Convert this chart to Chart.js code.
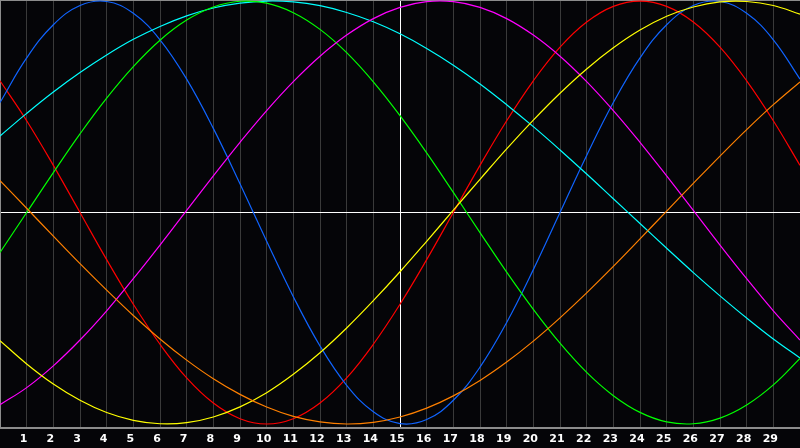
<!DOCTYPE html>
<html>
<head>
<meta charset="utf-8">
<script src="https://cdn.jsdelivr.net/npm/chart.js@4/dist/chart.umd.min.js"></script>
<style>
  html, body { margin: 0; padding: 0; background: #050508; }
  #c { display: block; }
</style>
</head>
<body>
<canvas id="c" width="800" height="448"></canvas>
<script>
// x positions 0..30
const xs = [0, 1, 2, 3, 4, 5, 6, 7, 8, 9, 10, 11, 12, 13, 14, 15, 16, 17, 18, 19, 20, 21, 22, 23, 24, 25, 26, 27, 28, 29, 30];

const red     = [0.623, 0.434, 0.223, 0, -0.223, -0.434, -0.623, -0.782, -0.901, -0.975, -1, -0.975, -0.901, -0.782, -0.623, -0.434, -0.223, 0, 0.223, 0.434, 0.623, 0.782, 0.901, 0.975, 1, 0.975, 0.901, 0.782, 0.623, 0.434, 0.223];
const blue    = [0.520, 0.731, 0.888, 0.979, 0.998, 0.942, 0.817, 0.631, 0.398, 0.136, -0.136, -0.398, -0.631, -0.817, -0.942, -0.998, -0.979, -0.888, -0.731, -0.520, -0.270, 0, 0.270, 0.520, 0.731, 0.888, 0.979, 0.998, 0.942, 0.817, 0.631];
const cyan    = [0.362, 0.469, 0.570, 0.662, 0.745, 0.819, 0.880, 0.930, 0.967, 0.990, 1.000, 0.996, 0.978, 0.946, 0.902, 0.845, 0.776, 0.697, 0.608, 0.510, 0.406, 0.296, 0.182, 0.065, -0.052, -0.169, -0.284, -0.394, -0.499, -0.598, -0.688];
const green   = [-0.189, 0, 0.189, 0.372, 0.541, 0.690, 0.815, 0.910, 0.972, 0.999, 0.990, 0.945, 0.866, 0.756, 0.618, 0.458, 0.282, 0.095, -0.095, -0.282, -0.458, -0.618, -0.756, -0.866, -0.945, -0.990, -0.999, -0.972, -0.910, -0.815, -0.690];
const magenta = [-0.909, -0.828, -0.725, -0.603, -0.465, -0.313, -0.154, 0.010, 0.173, 0.332, 0.482, 0.619, 0.739, 0.839, 0.917, 0.970, 0.997, 0.997, 0.970, 0.917, 0.839, 0.739, 0.619, 0.482, 0.332, 0.173, 0.010, -0.154, -0.313, -0.465, -0.603];
const yellow  = [-0.606, -0.716, -0.811, -0.888, -0.946, -0.983, -0.999, -0.994, -0.967, -0.919, -0.852, -0.765, -0.663, -0.546, -0.417, -0.280, -0.136, 0.011, 0.157, 0.301, 0.437, 0.564, 0.679, 0.779, 0.863, 0.928, 0.972, 0.996, 0.998, 0.979, 0.938];
const orange  = [0.151, 0.020, -0.112, -0.242, -0.367, -0.487, -0.598, -0.698, -0.786, -0.860, -0.920, -0.964, -0.990, -1.000, -0.992, -0.967, -0.925, -0.867, -0.794, -0.707, -0.608, -0.498, -0.380, -0.255, -0.125, 0.007, 0.138, 0.267, 0.392, 0.510, 0.618];

const yMin = -1.019;
const yMax = 1.005;

function pts(vals) {
    return xs.map((x, i) => ({ x: x, y: vals[i] }));
}

function line(vals, color) {
    return {
        data: pts(vals),
        borderColor: color,
        borderWidth: 1.2,
        pointRadius: 0,
        tension: 0.4,
        fill: false
    };
}

const ctx = document.getElementById('c').getContext('2d');
const chart = new Chart(ctx, {
    type: 'line',
    data: {
        datasets: [
            line(orange, '#ff8000'),
            line(yellow, '#ffff00'),
            line(magenta, '#ff00ff'),
            line(green, '#00ff00'),
            line(cyan, '#00ffff'),
            line(blue, '#1064ff'),
            line(red, '#ff0000')
        ]
    },
    options: {
        responsive: false,
        animation: false,
        devicePixelRatio: 1,
        layout: { padding: 0, autoPadding: false },
        plugins: {
            legend: { display: false },
            tooltip: { enabled: false }
        },
        scales: {
            x: {
                type: 'linear',
                min: 0,
                max: 30,
                afterFit: (axis) => {
                    axis.height = 20;
                    axis.paddingLeft = 0;
                    axis.paddingRight = 0;
                },
                ticks: {
                    stepSize: 1,
                    autoSkip: false,
                    maxRotation: 0,
                    padding: 5,
                    labelOffset: -3,
                    color: '#ffffff',
                    font: { family: 'DejaVu Sans', size: 11, weight: 'bold' },
                    callback: (v) => (v > 0 && v < 30 ? String(v) : '')
                },
                grid: {
                    drawTicks: false,
                    lineWidth: 1,
                    color: (c) => (c.tick && c.tick.value === 15 ? '#ffffff' : '#3a3a3a')
                },
                border: { display: true, color: '#8c8c8c', width: 2 }
            },
            y: {
                min: yMin,
                max: yMax,
                afterFit: (axis) => {
                    axis.width = 0;
                    axis.paddingTop = 0;
                    axis.paddingBottom = 0;
                },
                afterBuildTicks: (axis) => { axis.ticks = [{ value: 0 }, { value: yMax }]; },
                ticks: { display: false },
                grid: {
                    drawTicks: false,
                    lineWidth: (c) => (c.tick && c.tick.value === 0 ? 1 : 2),
                    color: (c) => (c.tick && c.tick.value === 0 ? '#ffffff' : '#8c8c8c')
                },
                border: { display: true, color: '#8c8c8c', width: 2 }
            }
        }
    }
});
</script>
</body>
</html>
